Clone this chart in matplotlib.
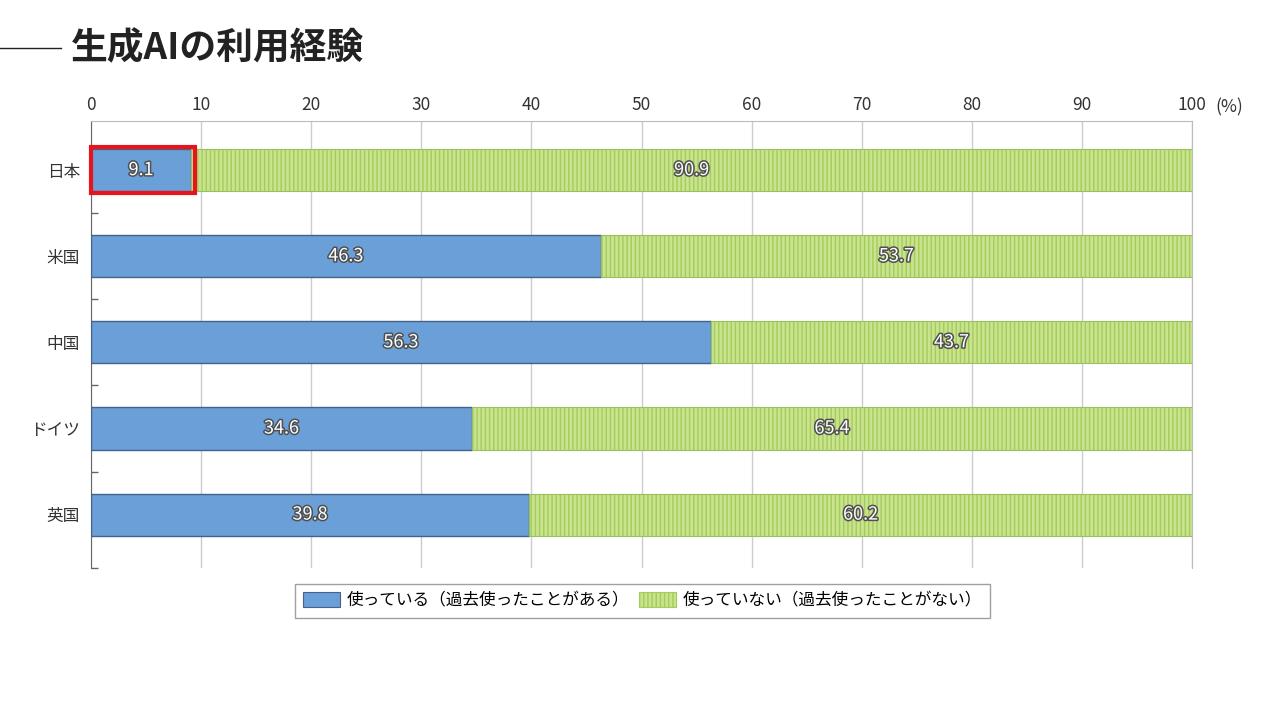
import matplotlib.pyplot as plt
import matplotlib.patheffects as pe
from matplotlib.patches import Rectangle, Patch

plt.rcParams['font.family'] = ['Noto Sans CJK JP', 'DejaVu Sans']
plt.rcParams['hatch.linewidth'] = 1.0

countries = ['日本', '米国', '中国', 'ドイツ', '英国']
used = [9.1, 46.3, 56.3, 34.6, 39.8]
not_used = [90.9, 53.7, 43.7, 65.4, 60.2]
labels = ['使っている（過去使ったことがある）', '使っていない（過去使ったことがない）']

blue = '#6a9fd8'
green = '#c9e38f'
stripe = '#a3cc5c'
textc = '#333333'

fig = plt.figure(figsize=(12.8, 7.2), dpi=100)
ax = fig.add_axes([0.0711, 0.2111, 0.8602, 0.6208])

y = list(range(len(countries)))
h = 0.49
ax.barh(y, used, height=h, color=blue, edgecolor='#46628a', linewidth=1.0, zorder=3)
ax.barh(y, not_used, left=used, height=h, color=green, edgecolor=stripe,
        hatch='||||', linewidth=0, zorder=3)
ax.barh(y, not_used, left=used, height=h, facecolor='none', edgecolor='#9cbf60',
        linewidth=0.8, zorder=4)

outline = [pe.withStroke(linewidth=2.2, foreground='#505050')]
for i in y:
    ax.text(used[i] / 2, i, f'{used[i]:.1f}', ha='center', va='center', color='white',
            fontsize=13, path_effects=outline, zorder=5)
    ax.text(used[i] + not_used[i] / 2, i, f'{not_used[i]:.1f}', ha='center', va='center',
            color='white', fontsize=13, path_effects=outline, zorder=5)

# red highlight around Japan
ax.add_patch(Rectangle((0, -0.27), 9.4, 0.54, fill=False, edgecolor='#e8141b',
                       linewidth=3, zorder=6, clip_on=False))

ax.set_xlim(0, 100)
ax.set_ylim(4.62, -0.57)
ax.xaxis.tick_top()
ax.set_xticks(range(0, 101, 10))
ax.tick_params(axis='x', length=0, labelsize=12.5, labelcolor=textc, pad=5)
ax.text(102.1, 1.0 + 5 / 447, '(%)', transform=ax.get_xaxis_transform(), fontsize=12.5,
        color=textc, ha='left', va='bottom')

ax.set_yticks(y)
ax.set_yticklabels(countries)
ax.set_yticks([0.5, 1.5, 2.5, 3.5, 4.62], minor=True)
ax.tick_params(axis='y', which='major', length=0, labelsize=12, labelcolor=textc, pad=8)
ax.tick_params(axis='y', which='minor', direction='in', length=5, color='#666666', width=1)

ax.grid(axis='x', color='#cccccc', linewidth=1, zorder=0)
ax.spines['bottom'].set_visible(False)
ax.spines['left'].set_color('#666666')
ax.spines['top'].set_color('#bbbbbb')
ax.spines['right'].set_color('#bbbbbb')

handles = [Patch(facecolor=blue, edgecolor='#46628a', linewidth=0.8),
           Patch(facecolor=green, edgecolor=stripe, hatch='||||', linewidth=0.8)]
fig.legend(handles, labels, loc='center', bbox_to_anchor=(0.502, 0.1653), ncol=2,
           fontsize=12, frameon=True, fancybox=False, edgecolor='#888888',
           handlelength=2.2, handleheight=1.0, handletextpad=0.4, columnspacing=0.6,
           borderpad=0.5)

fig.text(0.055, 0.932, '生成AIの利用経験', fontsize=26.5, fontweight='bold', color='#222222',
         va='center', ha='left')
fig.add_artist(plt.Line2D([0, 0.048], [0.934, 0.934], color='#222222', linewidth=1))

fig.savefig('out.png', dpi=100)
